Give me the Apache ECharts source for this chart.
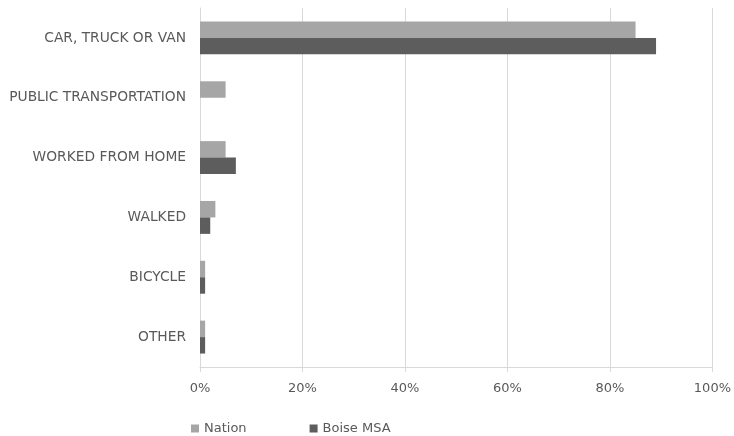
<!DOCTYPE html>
<html>
<head>
<meta charset="utf-8">
<script src="https://cdn.jsdelivr.net/npm/echarts@6/dist/echarts.min.js"></script>
<style>
  html, body { margin: 0; padding: 0; background: #ffffff; }
  #chart { width: 734px; height: 436px; }
</style>
</head>
<body>
<div id="chart"></div>
<script>
// Means of transportation to work, share of workers (%)
const categories = [
  'CAR, TRUCK OR VAN',
  'PUBLIC TRANSPORTATION',
  'WORKED FROM HOME',
  'WALKED',
  'BICYCLE',
  'OTHER'
];
const nationValues = [85, 5, 5, 3, 1, 1];
const boiseValues  = [89, 0, 7, 2, 1, 1];
const seriesNames = ['Nation', 'Boise MSA'];
const xTicks = [0, 20, 40, 60, 80, 100];

const FONT = 'DejaVu Sans';
const TEXT = '#595959';
const GRID = '#d9d9d9';

const chart = echarts.init(document.getElementById('chart'), null, { renderer: 'canvas' });

chart.setOption({
  animation: false,
  backgroundColor: '#ffffff',
  grid: { left: 200, right: 21, top: 8, bottom: 69, containLabel: false },
  legend: {
    left: 186,
    top: 417,
    itemWidth: 8,
    itemHeight: 8,
    itemGap: 63,
    icon: 'rect',
    textStyle: { fontFamily: FONT, fontSize: 13, color: TEXT },
    data: seriesNames
  },
  xAxis: {
    type: 'value',
    min: xTicks[0],
    max: xTicks[xTicks.length - 1],
    interval: 20,
    axisLine: { show: true, lineStyle: { color: GRID, width: 1 } },
    axisTick: { show: true, length: 5, lineStyle: { color: GRID } },
    splitLine: { show: true, lineStyle: { color: GRID, width: 1 } },
    axisLabel: {
      formatter: v => v + '%',
      fontFamily: FONT,
      fontSize: 13,
      color: TEXT,
      margin: 15
    }
  },
  yAxis: {
    type: 'category',
    data: categories,
    inverse: true,
    axisLine: { show: true, lineStyle: { color: GRID, width: 1 } },
    axisTick: { show: false },
    splitLine: { show: false },
    axisLabel: {
      fontFamily: FONT,
      fontSize: 13.8,
      color: TEXT,
      margin: 14
    }
  },
  series: [
    {
      name: seriesNames[0],
      type: 'bar',
      data: nationValues,
      barGap: '0%',
      barCategoryGap: '45%',
      itemStyle: { color: '#a6a6a6' }
    },
    {
      name: seriesNames[1],
      type: 'bar',
      data: boiseValues,
      barGap: '0%',
      barCategoryGap: '45%',
      itemStyle: { color: '#5d5d5d' }
    }
  ]
});
</script>
</body>
</html>
